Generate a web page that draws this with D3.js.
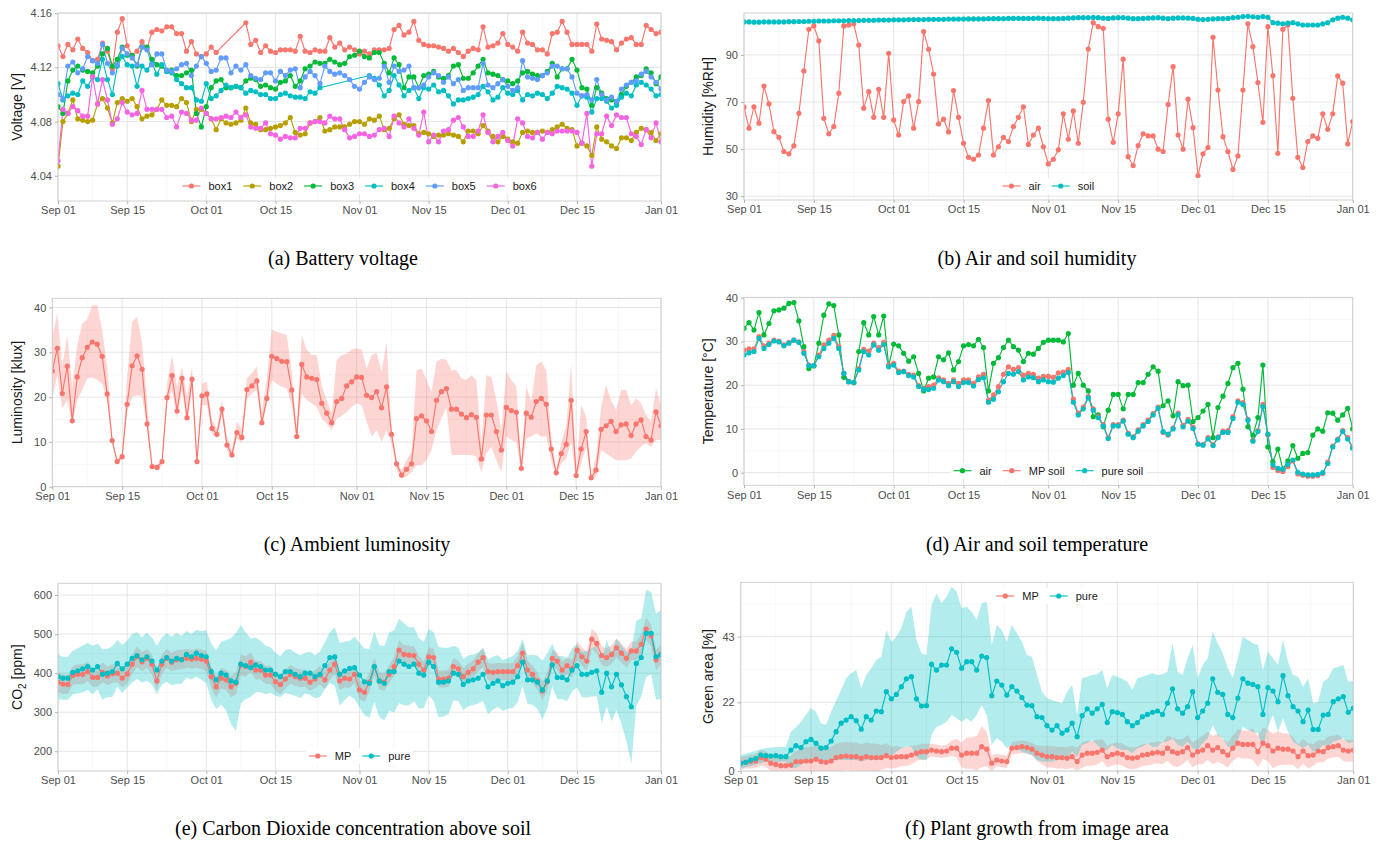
<!DOCTYPE html>
<html>
<head>
<meta charset="utf-8">
<script src="https://cdn.jsdelivr.net/npm/d3@7"></script>
<style>
  body { margin: 0; background: #fff; }
  svg { display: block; }
</style>
</head>
<body>
<svg id="fig" width="1381" height="842"></svg>
<script>
// ---- data: one value per day, Sep 01 (index 0) .. Jan 01 (index 122) ----

// (a) battery voltage [V]
const box1 = [4.136,4.128,4.137,4.133,4.141,4.134,4.131,4.125,4.126,4.138,
  4.132,4.119,4.146,4.156,4.136,4.129,4.132,4.139,4.134,4.146,
  4.148,4.147,4.150,4.150,4.145,4.145,4.132,4.139,4.130,4.128,
  4.130,4.135,4.131,null,null,null,null,null,4.153,4.137,
  4.140,4.131,4.136,4.132,4.131,4.133,4.133,4.133,4.132,4.143,
  4.132,4.131,4.133,4.132,4.132,4.142,4.135,4.138,4.133,4.135,
  4.133,4.130,4.132,4.130,4.133,4.133,4.133,4.134,4.148,4.151,
  4.144,4.146,4.154,4.140,4.137,4.136,4.136,4.135,4.134,4.132,
  4.134,4.131,4.128,4.132,4.134,4.133,4.150,4.135,4.136,4.138,
  4.145,4.137,4.135,4.132,4.146,4.138,4.137,4.133,4.133,4.130,
  4.145,4.146,4.154,4.146,4.137,4.137,4.137,4.137,4.132,4.152,
  4.141,4.140,4.139,4.133,4.138,4.141,4.142,4.137,4.137,4.151,
  4.148,4.145,4.146];
const box2 = [4.047,4.080,4.086,4.096,4.082,4.081,4.080,4.081,4.093,4.097,
  4.090,4.079,4.094,4.097,4.095,4.097,4.091,4.082,4.084,4.085,
  4.089,4.096,4.092,4.092,4.091,4.097,4.094,4.080,4.089,4.089,
  4.086,4.082,4.074,4.082,4.079,4.078,4.079,4.081,4.090,4.079,
  4.078,4.074,4.074,4.075,4.076,4.077,4.079,4.083,4.072,4.070,
  4.071,4.079,4.080,4.083,4.073,4.074,4.076,4.076,4.076,4.078,
  4.080,4.080,4.078,4.082,4.081,4.084,4.074,4.075,4.082,4.085,
  4.078,4.077,4.077,4.071,4.072,4.071,4.069,4.070,4.070,4.071,
  4.070,4.069,4.065,4.073,4.073,4.071,4.077,4.073,4.069,4.065,
  4.069,4.067,4.065,4.064,4.072,4.073,4.072,4.072,4.073,4.072,
  4.074,4.076,4.078,4.075,4.074,4.062,4.064,4.062,4.055,4.076,
  4.067,4.065,4.062,4.060,4.068,4.068,4.066,4.072,4.075,4.074,
  4.072,4.066,4.071];
const box3 = [4.091,4.086,4.110,4.118,4.121,4.118,4.117,4.116,4.121,4.130,
  4.134,4.121,4.126,4.135,4.129,4.129,4.121,4.135,4.135,4.126,
  4.122,4.121,4.117,4.118,4.114,4.114,4.116,4.118,4.086,4.076,
  4.091,4.105,4.110,4.111,4.105,4.105,4.106,4.105,4.110,4.112,
  4.111,4.106,4.107,4.105,4.104,4.109,4.110,4.114,4.106,4.110,
  4.119,4.121,4.124,4.123,4.123,4.126,4.124,4.122,4.123,4.128,
  4.129,4.132,4.128,4.127,4.131,4.131,4.123,4.116,4.127,4.122,
  4.105,4.113,4.113,4.105,4.114,4.115,4.117,4.113,4.112,4.114,
  4.121,4.122,4.112,4.112,4.116,4.121,4.126,4.116,4.115,4.114,
  4.111,4.110,4.108,4.110,4.116,4.117,4.115,4.114,4.114,4.117,
  4.123,4.113,4.119,4.119,4.126,4.118,4.105,4.104,4.092,4.105,
  4.101,4.097,4.096,4.094,4.100,4.106,4.109,4.113,4.114,4.119,
  4.116,4.108,4.113];
const box4 = [4.108,4.096,4.099,4.101,4.100,4.110,4.106,4.113,4.111,4.126,
  4.111,4.100,4.121,4.128,4.122,4.121,4.106,4.121,4.118,4.123,
  4.115,4.122,4.117,4.116,4.111,4.108,4.105,4.105,4.096,4.095,
  4.108,4.097,4.099,4.103,4.107,4.105,4.106,4.105,4.101,4.103,
  4.102,4.100,4.100,4.097,4.097,4.100,4.101,4.099,4.098,4.098,
  4.097,4.102,4.101,4.105,null,null,null,null,null,null,
  null,null,null,4.114,4.112,4.107,4.099,4.103,4.114,4.107,
  4.099,4.103,4.105,4.097,4.105,4.104,4.107,4.102,4.103,4.099,
  4.093,4.096,4.096,4.097,4.098,4.100,4.106,4.102,4.096,4.098,
  4.105,4.101,4.100,4.103,4.096,4.100,4.099,4.101,4.100,4.097,
  4.101,4.106,4.105,4.104,4.101,4.092,4.099,4.098,4.087,4.097,
  4.097,4.095,4.090,4.092,4.098,4.101,4.099,4.107,4.109,4.107,
  4.104,4.099,4.100];
const box5 = [4.100,4.097,4.121,4.124,4.116,4.119,4.128,4.125,4.123,4.137,
  4.123,4.116,4.122,4.134,4.130,4.127,4.122,4.135,4.133,4.122,
  4.130,4.130,4.118,4.117,4.119,4.122,4.123,4.114,4.121,4.128,
  4.123,4.117,4.118,4.127,4.127,4.116,4.121,4.118,4.122,4.114,
  4.112,4.111,4.116,4.116,4.110,4.117,4.114,4.118,4.119,4.105,
  4.113,4.117,4.114,4.108,4.121,4.117,4.115,4.116,4.114,4.111,
  4.106,4.104,4.109,4.113,4.111,4.112,4.121,4.109,4.121,4.117,
  4.118,4.121,4.105,4.105,4.107,4.113,4.116,4.114,4.109,4.113,
  4.108,4.111,4.103,4.105,4.105,4.105,4.123,4.107,4.105,4.108,
  4.111,4.106,4.103,4.105,4.125,4.113,4.112,4.111,4.114,4.116,
  4.121,4.121,4.119,4.119,4.113,4.101,4.099,4.100,4.096,4.111,
  4.100,4.096,4.098,4.095,4.104,4.107,4.109,4.110,4.115,4.117,
  4.113,4.109,4.104];
const box6 = [4.051,4.089,4.086,4.091,4.088,4.084,4.084,4.113,4.093,4.111,
  4.096,4.078,4.082,4.094,4.087,4.085,4.086,4.103,4.089,4.089,
  4.089,4.089,4.083,4.084,4.076,4.087,4.086,4.081,4.081,4.090,
  4.086,4.082,4.082,4.083,4.084,4.083,4.087,4.083,4.085,4.076,
  4.075,4.075,4.079,4.071,4.070,4.067,4.069,4.068,4.068,4.075,
  4.075,4.079,4.080,4.080,4.079,4.084,4.082,4.082,4.074,4.068,
  4.069,4.071,4.071,4.069,4.070,4.074,4.075,4.069,4.084,4.079,
  4.076,4.082,4.075,4.070,4.087,4.065,4.070,4.065,4.073,4.074,
  4.081,4.083,4.076,4.069,4.069,4.073,4.085,4.072,4.065,4.069,
  4.072,4.066,4.062,4.082,4.079,4.069,4.068,4.072,4.067,4.072,
  4.071,4.073,4.073,4.073,4.073,4.072,4.064,4.086,4.047,4.071,
  4.071,4.084,4.077,4.085,4.083,4.083,4.071,4.069,4.063,4.074,
  4.068,4.079,4.065];

// (b) humidity [%RH]
const humAir = [67.8,58.9,68.0,61.0,76.8,69.2,57.4,55.0,49.0,48.0,
  51.4,65.2,83.2,100.9,102.3,96.0,63.1,56.5,59.6,73.7,
  102.3,102.7,103.2,94.2,67.4,74.4,63.5,75.4,63.5,90.7,
  62.4,56.0,70.2,72.6,58.9,70.2,99.9,92.4,81.9,60.7,
  62.7,57.3,74.9,63.5,52.5,46.5,45.7,47.5,58.9,70.6,
  47.5,51.0,55.0,53.2,59.6,63.5,68.0,52.0,56.0,58.9,
  51.0,43.7,45.7,49.7,65.0,54.2,66.2,52.5,69.9,92.5,
  103.7,102.0,101.3,62.7,52.9,65.0,88.2,46.8,43.0,51.5,
  56.5,55.6,55.6,50.0,49.0,69.0,85.0,56.0,50.0,71.2,
  59.1,38.8,48.0,50.7,97.5,75.1,55.3,49.0,41.4,47.1,
  75.1,103.2,93.5,78.3,61.4,102.0,81.2,48.2,100.9,102.7,
  71.6,46.5,42.2,53.2,55.6,54.6,65.0,58.4,65.0,81.1,
  78.0,52.2,61.7];
const humSoil = [104.0,104.0,103.9,103.9,104.0,104.0,104.0,104.0,104.0,104.1,
  104.1,104.2,104.2,104.3,104.3,104.4,104.4,104.4,104.5,104.5,
  104.5,104.6,104.6,104.6,104.7,104.7,104.7,104.8,104.8,104.8,
  104.9,104.9,104.9,105.0,105.0,105.0,105.0,105.1,105.1,105.1,
  105.1,105.2,105.2,105.2,105.2,105.3,105.3,105.3,105.3,105.4,
  105.4,105.4,105.4,105.5,105.5,105.5,105.5,105.5,105.5,105.6,
  105.5,105.4,105.4,105.4,105.5,105.6,105.7,105.8,105.8,105.8,
  105.9,105.8,105.6,105.5,105.7,105.8,105.8,105.6,105.4,105.4,
  105.5,105.6,105.7,105.8,105.6,105.4,105.6,105.7,105.7,105.6,
  105.5,105.1,105.0,105.1,105.3,105.4,105.4,105.5,105.8,106.0,
  106.3,106.4,106.2,106.0,106.3,106.0,103.7,103.5,103.2,103.5,
  103.7,103.2,102.7,102.7,102.7,102.7,103.2,103.7,104.9,105.6,
  106.0,105.6,104.9];

// (c) luminosity [klux], mean with min / max band
const lum = [25.8,30.9,20.8,26.9,14.7,24.5,28.8,31.1,32.3,31.8,
  29.1,20.7,10.3,5.6,6.7,18.4,27.0,29.2,26.2,14.0,
  4.5,4.3,5.6,19.9,24.8,16.9,24.2,15.4,24.0,5.6,
  20.3,20.7,13.0,11.7,17.3,9.3,7.1,12.1,11.0,21.7,
  22.5,23.6,14.3,19.7,29.1,28.6,28.0,27.9,21.6,11.2,
  27.3,24.5,24.2,23.9,18.6,16.4,14.3,19.0,19.7,22.5,
  23.4,24.5,24.4,20.4,19.9,21.2,17.6,22.3,11.7,5.1,
  2.6,3.9,5.1,15.2,15.8,14.7,12.3,19.3,21.2,21.9,
  17.3,17.3,16.2,15.4,16.1,15.5,6.2,16.0,16.0,12.3,
  8.2,17.7,17.0,16.6,4.1,16.4,15.5,19.0,19.7,18.4,
  8.4,3.1,7.4,9.5,19.3,2.5,8.4,12.3,2.0,3.7,
  12.8,13.6,14.6,12.3,13.8,14.0,11.4,14.0,14.9,11.2,
  10.4,16.7,13.6];
const lumHi = [33.5,38.7,27.0,33.8,22.3,31.6,36.4,37.3,40.5,40.5,
  35.0,26.8,11.2,6.0,7.4,24.5,36.8,37.9,32.0,19.3,
  5.2,4.8,6.3,23.0,29.4,22.3,26.8,20.0,26.8,6.3,
  23.0,23.4,14.9,13.0,19.3,11.2,8.2,14.5,13.0,24.2,
  25.3,26.9,16.7,24.2,35.1,34.6,34.2,33.8,25.7,12.6,
  33.8,30.5,29.4,29.4,22.7,19.3,16.4,28.3,29.4,29.7,
  30.6,30.9,30.6,26.4,29.4,29.9,25.7,32.3,12.6,5.9,
  3.7,5.9,7.8,26.0,26.4,23.8,21.2,27.9,28.6,28.3,
  26.0,26.0,24.2,23.8,24.9,23.8,9.7,24.9,24.5,19.3,
  12.6,25.7,23.8,22.3,4.8,22.3,19.0,27.1,27.9,26.0,
  11.2,3.7,10.0,13.4,27.5,3.3,18.2,15.6,2.6,6.7,
  17.8,22.7,19.3,17.1,21.6,21.6,18.2,19.7,18.6,16.0,
  14.5,21.9,18.2];
const lumLo = [19.7,24.9,17.5,19.3,13.8,19.3,21.6,24.2,24.4,23.8,
  22.9,19.3,9.7,5.2,6.3,17.1,20.1,20.4,20.2,13.0,
  4.1,3.7,4.8,18.6,21.6,15.2,21.6,14.1,21.6,4.8,
  18.2,18.2,11.9,10.8,16.0,8.2,6.3,10.8,9.7,19.7,
  20.8,21.6,13.4,18.2,23.8,23.0,22.3,21.9,18.2,10.0,
  20.8,19.3,18.6,17.8,15.2,14.1,12.6,15.2,15.8,16.7,
  17.8,18.6,18.2,14.5,11.2,12.6,10.0,12.6,9.7,3.7,
  1.9,2.2,3.3,4.8,4.8,5.9,8.2,12.6,15.2,17.8,
  7.1,7.1,7.1,7.1,7.1,6.7,3.3,7.4,8.9,5.9,
  3.3,11.2,10.4,10.0,3.1,10.8,11.2,11.9,11.2,11.2,
  5.9,2.2,5.2,6.3,10.0,1.6,5.2,8.9,1.5,2.2,
  8.2,7.4,6.7,5.9,5.9,5.9,6.3,7.8,8.9,9.7,
  8.9,10.4,10.4];

// (d) temperature [°C]
const tempAir = [33.0,34.3,32.6,36.6,31.5,34.1,37.0,37.2,37.6,38.7,
  38.9,34.7,28.8,23.8,24.4,29.6,36.0,38.6,38.2,31.5,
  21.8,20.8,20.6,27.7,34.3,31.5,35.7,31.5,35.8,24.4,
  29.4,29.0,27.3,25.5,26.5,22.7,18.7,21.6,21.9,26.5,
  25.8,27.4,23.5,25.4,29.0,29.3,29.0,30.5,28.6,18.7,
  25.0,26.3,28.6,30.3,28.8,28.0,25.4,27.3,27.1,28.4,
  29.8,30.3,30.3,30.3,29.9,31.8,20.0,22.7,20.0,18.7,
  12.8,13.2,10.5,14.3,17.9,17.9,14.6,17.9,17.9,20.6,
  20.6,22.5,24.2,23.2,15.3,16.4,13.0,20.8,19.9,20.0,
  11.7,12.6,14.1,15.6,8.0,14.9,17.5,20.4,24.0,25.0,
  19.1,10.5,8.6,12.6,24.6,5.9,2.5,5.4,0.8,2.7,
  6.2,3.3,4.4,4.6,8.6,10.0,9.5,13.7,13.6,12.0,
  13.2,14.7,10.0];
const tempMP = [28.0,28.3,28.3,31.1,29.0,29.6,30.3,30.1,29.2,29.8,
  30.3,29.9,27.7,24.6,24.5,26.9,29.2,30.3,31.4,28.8,
  22.7,20.8,20.6,23.8,28.2,27.8,29.6,28.6,29.8,24.6,
  25.0,23.2,23.2,22.5,22.3,19.9,19.3,19.7,20.0,21.7,
  21.2,20.4,21.2,20.4,21.2,21.2,20.4,21.9,22.5,16.6,
  17.8,19.7,22.5,24.2,23.6,24.0,22.3,22.7,22.5,21.6,
  22.0,22.0,21.8,22.8,23.0,23.6,16.8,13.6,15.0,17.4,
  14.6,12.8,11.0,8.0,11.0,11.0,12.0,9.0,8.2,9.8,
  11.0,12.0,13.5,15.0,9.2,8.6,10.2,13.6,10.8,12.2,
  10.4,6.6,6.4,8.0,6.4,8.2,9.5,9.6,12.8,16.4,
  16.0,12.2,7.4,9.6,15.6,8.6,1.2,0.5,0.3,1.4,
  2.7,-0.3,-0.6,-0.8,-0.8,-0.7,-0.2,2.4,6.1,7.7,
  9.6,8.0,5.8];
const tempPure = [26.9,27.4,27.7,30.7,28.4,29.3,30.1,29.9,29.0,29.6,
  30.3,29.8,27.3,24.5,24.5,26.5,28.4,29.6,30.7,28.4,
  22.7,20.8,20.6,23.5,27.7,26.9,29.2,28.0,29.3,24.2,
  24.6,22.9,23.1,22.2,21.9,19.7,19.1,19.0,19.3,21.2,
  20.8,19.9,20.8,19.7,20.6,20.6,19.8,21.3,21.7,16.1,
  16.8,18.5,20.8,22.7,22.5,23.1,21.2,21.9,21.7,20.8,
  21.2,20.8,20.7,21.6,22.2,22.9,16.1,13.2,14.6,17.1,
  14.3,12.6,10.7,7.8,10.7,10.7,11.8,8.8,8.0,9.5,
  10.7,11.7,13.2,14.7,9.4,8.8,10.0,13.3,10.5,11.8,
  10.1,6.5,6.3,7.7,6.2,8.0,9.2,9.2,12.4,16.1,
  15.6,12.0,7.2,9.4,15.1,8.8,1.8,1.0,0.8,1.9,
  2.9,0.1,-0.3,-0.5,-0.5,-0.4,0.0,2.1,5.9,7.5,
  9.4,7.7,5.6];

// (e) CO2 [ppm], mean and half-width of band
const co2MP = [377,372,371,394,397,397,404,389,389,402,
  393,399,400,387,398,423,442,429,438,423,
  380,423,438,428,434,435,438,436,438,436,
  431,391,365,387,383,365,374,421,417,428,
  408,408,395,395,378,371,385,397,391,387,
  387,377,385,395,383,408,423,380,387,385,
  397,357,351,377,417,380,377,397,417,459,
  448,446,445,423,408,442,440,385,385,387,
  417,411,391,402,411,428,440,404,402,404,
  404,404,404,419,451,408,397,380,354,378,
  438,431,408,419,411,459,442,431,487,476,
  445,440,448,465,451,438,457,457,474,513,
  496,434,448];
const co2Pure = [391,387,387,402,406,411,417,408,417,397,
  400,404,425,411,423,438,445,434,442,431,
  408,431,440,431,438,434,448,442,451,445,
  442,404,383,400,395,380,377,423,419,414,
  421,417,408,408,397,391,404,404,397,391,
  400,400,391,397,419,440,442,397,406,412,
  414,395,378,374,417,380,374,404,404,431,
  423,417,423,400,395,428,417,377,377,380,
  400,397,371,380,383,387,397,365,374,380,
  368,374,377,391,428,383,383,377,357,380,
  421,389,389,383,408,419,397,397,402,406,
  351,400,365,397,370,340,314,425,440,502,
  502,442,448];
const co2MPsd = [25,25,24,24,25,26,25,24,24,25,
  24,24,23,24,25,26,26,25,24,25,
  26,25,24,24,25,25,24,24,25,25,
  26,28,28,26,26,27,28,27,26,25,
  24,24,23,23,24,25,24,24,23,23,
  22,22,23,24,24,25,26,24,23,23,
  22,24,25,24,23,22,22,23,24,25,
  24,24,23,22,22,24,23,22,22,22,
  22,21,22,22,22,23,24,22,22,22,
  22,22,22,24,26,24,22,22,24,22,
  22,22,22,22,22,24,24,24,26,26,
  24,24,24,24,24,24,24,24,26,28,
  28,26,25];
const co2Puresd = [57,55,55,56,58,60,60,62,58,65,
  62,65,60,62,60,62,60,58,62,60,
  62,60,62,62,65,62,60,58,60,62,
  68,72,75,80,90,110,125,100,85,75,
  70,65,62,58,55,52,55,58,55,55,
  52,55,55,58,60,65,75,80,75,70,
  80,82,85,88,90,92,95,100,105,108,
  105,100,95,90,85,85,88,90,88,85,
  70,68,66,65,65,65,68,70,68,66,
  65,65,66,66,60,62,64,68,75,70,
  55,55,55,55,55,55,58,60,62,65,
  80,85,88,92,100,115,145,110,100,112,
  105,110,114];

// (f) green area [%]
const greenMP = [2.5,2.8,3.0,3.2,4.3,3.8,2.5,2.1,1.7,1.7,
  1.9,3.0,3.0,3.2,3.2,3.8,3.0,2.8,3.2,4.3,
  4.6,4.8,4.6,4.6,4.1,4.6,4.3,4.3,4.3,4.9,
  4.3,4.5,4.6,4.6,5.1,5.7,6.2,6.2,6.7,6.4,
  6.2,6.4,7.3,7.3,5.1,5.7,5.7,5.7,7.8,7.0,
  2.5,3.5,3.2,3.0,7.3,7.5,7.8,7.5,7.0,5.7,
  5.1,4.6,4.6,4.3,4.3,4.1,4.6,3.0,5.1,5.7,
  5.7,6.0,6.7,4.6,5.3,5.7,5.3,4.3,4.1,4.3,
  5.1,5.3,5.7,6.0,5.7,7.3,6.2,5.7,6.2,7.5,
  5.1,6.2,6.7,8.1,6.7,7.5,6.2,5.1,7.3,8.9,
  8.5,8.5,8.5,6.2,8.9,8.1,6.4,7.3,7.0,7.0,
  6.4,4.6,6.4,4.9,5.1,6.4,6.2,7.5,7.8,8.1,
  6.7,6.4,6.7];
const greenMPsd = [2.0,2.0,2.2,2.2,2.5,2.5,2.5,2.5,2.5,2.5,
  3.0,3.5,4.0,4.5,4.5,4.5,4.5,4.5,4.5,4.5,
  4.5,4.5,4.5,4.5,4.5,4.5,4.5,4.5,4.0,4.0,
  3.5,3.5,3.0,3.0,3.0,2.5,2.5,2.5,2.0,2.0,
  2.0,2.0,2.5,3.0,4.0,5.0,5.0,5.5,6.5,5.5,
  2.5,2.0,2.0,2.0,2.0,2.0,2.0,2.0,2.0,2.5,
  3.0,3.5,3.5,3.5,3.5,3.5,3.5,4.5,4.0,4.0,
  4.0,4.0,3.5,3.5,3.5,3.5,3.5,3.5,3.5,3.5,
  3.5,3.5,3.5,3.5,3.5,4.0,4.5,4.5,4.0,4.0,
  4.0,4.0,4.5,4.5,4.5,4.5,4.0,4.0,4.0,4.5,
  4.5,4.5,5.0,5.0,5.0,5.0,5.5,5.5,5.0,5.0,
  4.5,4.0,4.0,4.0,3.5,3.5,3.5,3.5,3.5,3.5,
  3.5,3.5,3.5];
const greenPure = [2.5,2.8,3.5,4.0,5.1,4.9,4.8,4.9,4.6,4.6,
  6.7,8.1,7.5,9.4,10.1,8.9,7.3,7.5,9.6,12.6,
  15.3,16.3,17.4,16.1,13.4,17.4,16.3,19.2,19.0,25.4,
  23.1,24.5,27.0,29.5,30.2,23.1,20.8,20.9,34.2,32.3,
  33.9,33.9,39.1,38.0,32.9,35.0,35.0,32.3,36.8,36.3,
  24.1,28.8,27.5,24.3,27.0,25.6,23.5,21.1,20.9,17.4,
  17.1,14.5,13.1,14.5,12.1,13.1,15.3,11.0,17.7,19.9,
  18.5,19.9,21.3,15.5,19.0,18.7,18.1,15.8,14.5,15.5,
  17.4,18.1,18.8,19.2,18.1,21.7,26.3,19.9,18.5,20.6,
  25.4,17.1,19.2,21.7,29.5,25.2,24.5,18.1,17.1,23.3,
  29.5,28.1,27.7,27.0,18.1,26.7,25.6,22.2,30.5,24.1,
  20.6,19.2,15.8,19.5,13.3,13.3,17.9,18.1,22.2,23.1,
  23.8,18.8,20.1];
const greenPureHi = [5.1,5.5,6.0,6.5,7.0,7.3,7.5,7.6,7.7,7.8,
  12.6,14.0,15.8,18.0,20.1,19.0,15.3,14.7,19.0,22.5,
  25.9,29.7,31.3,32.3,26.5,30.7,32.9,35.5,36.6,45.1,
  41.4,43.0,45.7,51.0,52.6,41.9,37.7,37.1,53.1,56.9,
  53.7,55.8,59.0,57.4,52.1,52.6,51.0,48.3,53.7,54.2,
  40.3,46.7,45.1,41.4,46.7,44.1,41.4,37.1,36.6,30.7,
  25.4,23.3,22.7,22.2,21.7,25.4,27.5,17.9,29.7,30.2,
  30.7,31.0,32.3,26.5,30.7,30.2,29.5,28.6,25.9,29.7,
  30.2,30.7,31.3,30.7,31.0,31.8,40.9,31.8,30.7,36.1,
  40.3,29.7,33.9,36.1,44.6,40.9,37.7,32.9,29.7,36.1,
  43.0,41.9,40.9,40.3,32.3,38.2,36.1,33.9,41.9,35.0,
  30.7,30.2,27.0,29.7,21.7,22.2,28.6,29.7,32.9,33.4,
  33.9,28.6,28.8];
const greenPureLo = [0.9,1.2,1.5,2.0,2.5,3.0,3.0,3.0,3.0,3.0,
  1.0,1.0,2.0,3.0,3.5,3.5,3.0,3.0,3.5,3.5,
  3.5,3.5,3.5,3.5,3.0,3.5,3.5,3.5,3.5,5.7,
  4.6,6.2,7.3,7.8,7.8,4.6,3.5,3.5,11.5,14.2,
  14.7,15.8,17.9,16.9,15.8,16.9,15.8,17.9,21.1,17.9,
  8.3,10.5,9.4,7.3,8.3,7.3,6.2,5.7,5.1,3.5,
  3.0,3.0,3.0,3.5,3.5,4.0,6.2,4.6,8.3,8.9,
  9.9,8.3,6.7,6.7,8.3,7.3,6.7,6.7,5.7,7.3,
  7.8,8.9,7.8,7.8,9.4,9.4,10.5,8.3,7.8,9.4,
  7.3,6.7,8.9,10.5,14.7,11.5,10.5,7.8,7.3,9.9,
  14.2,13.1,12.6,12.1,7.3,14.2,17.9,12.6,16.9,12.6,
  9.4,8.3,7.3,8.3,6.2,6.7,8.3,7.8,9.4,9.9,
  10.5,8.9,9.4];

// ---- layout / style ----
const RED = "#F8766D", OLIVE = "#B79F00", GREEN = "#00BA38",
      CYAN = "#00BFC4", BLUE = "#619CFF", PINK = "#F564E3";
const SANS = "'Liberation Sans', Arial, sans-serif";
const SERIF = "'Liberation Serif', 'Times New Roman', serif";
const PT_R = 2.6;   // point radius
const LINE_W = 1.15;

const fig = d3.select("#fig");
fig.append("rect").attr("width", 1381).attr("height", 842).attr("fill", "#fff");

const T0 = new Date(Date.UTC(2019, 8, 1));
const T1 = new Date(Date.UTC(2020, 0, 1));
const dayOf = i => d3.utcDay.offset(T0, i);
const xMajor = [[2019, 8, 1], [2019, 8, 15], [2019, 9, 1], [2019, 9, 15], [2019, 10, 1],
  [2019, 10, 15], [2019, 11, 1], [2019, 11, 15], [2020, 0, 1]].map(a => new Date(Date.UTC(...a)));
const xMinor = d3.pairs(xMajor, (a, b) => new Date((+a + +b) / 2));

function drawLegend(g, items, cx, cy) {
  const lg = g.append("g");
  const bg = lg.append("rect").attr("fill", "#fff");
  let pos = 0;
  items.forEach(it => {
    const ig = lg.append("g").attr("transform", `translate(${pos},0)`);
    ig.append("line").attr("x1", 0).attr("x2", 18)
      .attr("stroke", it.color).attr("stroke-width", LINE_W);
    ig.append("circle").attr("cx", 9).attr("r", PT_R).attr("fill", it.color);
    const t = ig.append("text").attr("x", 26).attr("dy", "0.35em")
      .attr("font-family", SANS).attr("font-size", 11).attr("fill", "#1a1a1a")
      .text(it.name);
    pos += 26 + t.node().getComputedTextLength() + 11;
  });
  const w = pos - 11;
  lg.attr("transform", `translate(${cx - w / 2},${cy})`);
  bg.attr("x", -3).attr("y", -8).attr("width", w + 6).attr("height", 16);
}

function drawPanel(p) {
  const [x0, y0, x1, y1] = p.box;
  const x = d3.scaleUtc().domain([T0, T1]).range([x0, x1]);
  const y = d3.scaleLinear().domain(p.yDomain).range([y1, y0]);
  const g = fig.append("g");

  // grid (minor then major)
  const grid = g.append("g");
  grid.selectAll(null).data(p.yMinor).join("line")
    .attr("x1", x0).attr("x2", x1).attr("y1", d => y(d)).attr("y2", d => y(d))
    .attr("stroke", "#f1f1f1").attr("stroke-width", 0.6);
  grid.selectAll(null).data(xMinor).join("line")
    .attr("x1", d => x(d)).attr("x2", d => x(d)).attr("y1", y0).attr("y2", y1)
    .attr("stroke", "#f1f1f1").attr("stroke-width", 0.6);
  grid.selectAll(null).data(p.yTicks).join("line")
    .attr("x1", x0).attr("x2", x1).attr("y1", d => y(d)).attr("y2", d => y(d))
    .attr("stroke", "#e2e2e2").attr("stroke-width", 0.9);
  grid.selectAll(null).data(xMajor).join("line")
    .attr("x1", d => x(d)).attr("x2", d => x(d)).attr("y1", y0).attr("y2", y1)
    .attr("stroke", "#e2e2e2").attr("stroke-width", 0.9);

  const cid = "clip-" + p.id;
  g.append("clipPath").attr("id", cid).append("rect")
    .attr("x", x0).attr("y", y0).attr("width", x1 - x0).attr("height", y1 - y0);
  const plot = g.append("g").attr("clip-path", `url(#${cid})`);

  // ribbons
  (p.bands || []).forEach(b => {
    const idx = d3.range(b.lo.length);
    const area = d3.area()
      .x(i => x(dayOf(i))).y0(i => y(b.lo[i])).y1(i => y(b.hi[i]));
    plot.append("path").datum(idx).attr("d", area)
      .attr("fill", b.color).attr("fill-opacity", 0.3);
  });

  // lines, then points (ggplot layer order)
  const pts = s => s.values.map((v, i) => ({ t: dayOf(i), v })).filter(d => d.v != null);
  const line = d3.line().x(d => x(d.t)).y(d => y(d.v));
  p.series.forEach(s => {
    plot.append("path").datum(pts(s)).attr("d", line)
      .attr("fill", "none").attr("stroke", s.color).attr("stroke-width", LINE_W);
  });
  p.series.forEach(s => {
    plot.append("g").selectAll("circle").data(pts(s)).join("circle")
      .attr("cx", d => x(d.t)).attr("cy", d => y(d.v)).attr("r", PT_R)
      .attr("fill", s.color);
  });

  // panel border
  g.append("rect").attr("x", x0).attr("y", y0).attr("width", x1 - x0).attr("height", y1 - y0)
    .attr("fill", "none").attr("stroke", "#cdcdcd").attr("stroke-width", 0.9);

  // axes
  const ax = g.append("g").attr("transform", `translate(0,${y1})`)
    .call(d3.axisBottom(x).tickValues(xMajor).tickFormat(d3.utcFormat("%b %d"))
      .tickSize(3).tickPadding(2.5));
  const ay = g.append("g").attr("transform", `translate(${x0},0)`)
    .call(d3.axisLeft(y).tickValues(p.yTicks).tickFormat(p.yFmt).tickSize(3).tickPadding(3));
  [ax, ay].forEach(a => {
    a.select(".domain").remove();
    a.selectAll("line").attr("stroke", "#b3b3b3");
    a.selectAll("text").attr("fill", "#4d4d4d").attr("font-size", 11).attr("font-family", SANS);
  });

  // y title
  const ty = g.append("text")
    .attr("transform", `translate(${p.titleX},${(y0 + y1) / 2}) rotate(-90)`)
    .attr("text-anchor", "middle").attr("dominant-baseline", "central")
    .attr("font-family", SANS).attr("font-size", 14).attr("fill", "#1a1a1a");
  p.title.forEach(part => {
    const ts = ty.append("tspan").text(part.text);
    if (part.sub) ts.attr("font-size", 10).attr("baseline-shift", "sub");
  });

  if (p.legendY != null) {
    drawLegend(g, p.series.map(s => ({ name: s.name, color: s.color })), (x0 + x1) / 2, p.legendY);
  }

  fig.append("text").attr("x", p.capX).attr("y", p.capY).attr("text-anchor", "middle")
    .attr("font-family", SERIF).attr("font-size", 20).attr("fill", "#000")
    .text(p.caption);
}

const f2 = d3.format(".2f"), fi = d3.format("d");

drawPanel({
  id: "a", box: [58, 13, 661, 201], yDomain: [4.0213, 4.1602],
  yTicks: [4.04, 4.08, 4.12, 4.16], yMinor: [4.06, 4.10, 4.14], yFmt: f2,
  title: [{ text: "Voltage [V]" }], titleX: 17,
  series: [
    { name: "box1", color: RED, values: box1 },
    { name: "box2", color: OLIVE, values: box2 },
    { name: "box3", color: GREEN, values: box3 },
    { name: "box4", color: CYAN, values: box4 },
    { name: "box5", color: BLUE, values: box5 },
    { name: "box6", color: PINK, values: box6 }
  ],
  legendY: 186, caption: "(a) Battery voltage", capX: 343, capY: 265
});

drawPanel({
  id: "b", box: [744, 13, 1352.7, 200], yDomain: [28.4, 107.8],
  yTicks: [30, 50, 70, 90], yMinor: [40, 60, 80, 100], yFmt: fi,
  title: [{ text: "Humidity [%RH]" }], titleX: 708,
  series: [
    { name: "air", color: RED, values: humAir },
    { name: "soil", color: CYAN, values: humSoil }
  ],
  legendY: 186, caption: "(b) Air and soil humidity", capX: 1037, capY: 265
});

drawPanel({
  id: "c", box: [52.3, 298.3, 661, 486.7], yDomain: [0, 42.05],
  yTicks: [0, 10, 20, 30, 40], yMinor: [5, 15, 25, 35], yFmt: fi,
  title: [{ text: "Luminosity [klux]" }], titleX: 17,
  bands: [{ color: RED, lo: lumLo, hi: lumHi }],
  series: [{ name: "lum", color: RED, values: lum }],
  legendY: null, caption: "(c) Ambient luminosity", capX: 357, capY: 551
});

drawPanel({
  id: "d", box: [744, 297.3, 1352.7, 485.3], yDomain: [-2.88, 40.09],
  yTicks: [0, 10, 20, 30, 40], yMinor: [5, 15, 25, 35], yFmt: fi,
  title: [{ text: "Temperature [°C]" }], titleX: 708,
  series: [
    { name: "air", color: GREEN, values: tempAir },
    { name: "MP soil", color: RED, values: tempMP },
    { name: "pure soil", color: CYAN, values: tempPure }
  ],
  legendY: 470.7, caption: "(d) Air and soil temperature", capX: 1037, capY: 551
});

drawPanel({
  id: "e", box: [58, 583.3, 661, 771], yDomain: [149.5, 630],
  yTicks: [200, 300, 400, 500, 600], yMinor: [150, 250, 350, 450, 550], yFmt: fi,
  title: [{ text: "CO" }, { text: "2", sub: true }, { text: " [ppm]" }], titleX: 17,
  bands: [
    { color: RED, lo: co2MP.map((v, i) => v - co2MPsd[i]), hi: co2MP.map((v, i) => v + co2MPsd[i]) },
    { color: CYAN, lo: co2Pure.map((v, i) => v - co2Puresd[i]), hi: co2Pure.map((v, i) => v + co2Puresd[i]) }
  ],
  series: [
    { name: "MP", color: RED, values: co2MP },
    { name: "pure", color: CYAN, values: co2Pure }
  ],
  legendY: 756, caption: "(e) Carbon Dioxide concentration above soil", capX: 353, capY: 835
});

drawPanel({
  id: "f", box: [740.7, 582.3, 1353.3, 771], yDomain: [0, 60.4],
  yTicks: [0, 22, 43], yMinor: [11, 32.5, 53.5], yFmt: fi,
  title: [{ text: "Green area [%]" }], titleX: 708,
  bands: [
    { color: RED, lo: greenMP.map((v, i) => Math.max(0, v - greenMPsd[i])), hi: greenMP.map((v, i) => v + greenMPsd[i]) },
    { color: CYAN, lo: greenPureLo, hi: greenPureHi }
  ],
  series: [
    { name: "MP", color: RED, values: greenMP },
    { name: "pure", color: CYAN, values: greenPure }
  ],
  legendY: 596, caption: "(f) Plant growth from image area", capX: 1037, capY: 835
});
</script>
</body>
</html>
